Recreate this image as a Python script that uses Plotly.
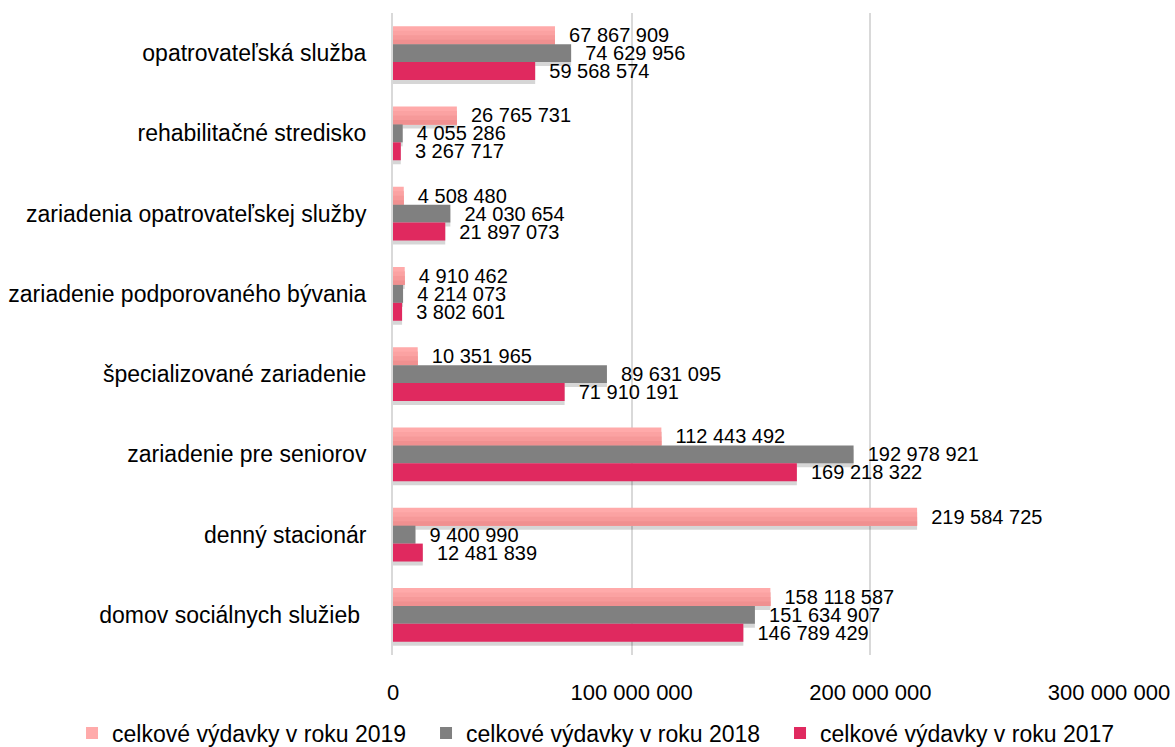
import plotly.graph_objects as go

# Service types, listed top to bottom
categories = [
    "opatrovateľská služba",
    "rehabilitačné stredisko",
    "zariadenia opatrovateľskej služby",
    "zariadenie podporovaného bývania",
    "špecializované zariadenie",
    "zariadenie pre seniorov",
    "denný stacionár",
    "domov sociálnych služieb ",
]

vydavky_2019 = [67867909, 26765731, 4508480, 4910462, 10351965, 112443492, 219584725, 158118587]
vydavky_2018 = [74629956, 4055286, 24030654, 4214073, 89631095, 192978921, 9400990, 151634907]
vydavky_2017 = [59568574, 3267717, 21897073, 3802601, 71910191, 169218322, 12481839, 146789429]

series_names = [
    "celkové výdavky v roku 2019",
    "celkové výdavky v roku 2018",
    "celkové výdavky v roku 2017",
]
series_values = [vydavky_2019, vydavky_2018, vydavky_2017]
series_colors = ["#FFAAAA", "#808080", "#E0295F"]

# lower shades of the 2019 bars (light top fading to a deeper pink)
shade_2019 = ["#FBA2A2", "#F69999", "#F09090"]

x_ticks = [0, 100000000, 200000000, 300000000]

FONT = "Liberation Sans, Arial, sans-serif"
NBSP = "\u00a0"

BARGAP = 0.33
BAR_W = (1 - BARGAP) / 3
SHADOW_SHIFT = 0.05
GROUP_START = -(1 - BARGAP) / 2


def main_bar(name, vals, color):
    return go.Bar(
        y=categories,
        x=vals,
        name=name,
        orientation="h",
        marker=dict(color=color, line=dict(width=0)),
        texttemplate=NBSP * 2 + "%{x:,d}",
        textposition="outside",
        constraintext="none",
        cliponaxis=False,
        textfont=dict(family=FONT, size=20, color="#000000"),
        hoverinfo="skip",
    )


fig = go.Figure()

# soft drop shadow drawn underneath each bar
for i, vals in enumerate(series_values):
    fig.add_trace(go.Bar(
        y=categories,
        x=vals,
        orientation="h",
        offset=GROUP_START + i * BAR_W + SHADOW_SHIFT,
        width=BAR_W,
        marker=dict(color="rgba(0,0,0,0.16)", line=dict(width=0)),
        showlegend=False,
        hoverinfo="skip",
    ))

# 2019 bars with a vertical gradient built from stacked shade bands
fig.add_trace(main_bar(series_names[0], vydavky_2019, series_colors[0]))
n_bands = len(shade_2019) + 1
for k, shade in enumerate(shade_2019, start=1):
    frac = (n_bands - k) / n_bands
    fig.add_trace(go.Bar(
        y=categories,
        x=vydavky_2019,
        orientation="h",
        offset=GROUP_START + BAR_W * (1 - frac),
        width=BAR_W * frac,
        marker=dict(color=shade, line=dict(width=0)),
        showlegend=False,
        hoverinfo="skip",
    ))

fig.add_trace(main_bar(series_names[1], vydavky_2018, series_colors[1]))
fig.add_trace(main_bar(series_names[2], vydavky_2017, series_colors[2]))

fig.update_layout(
    width=1175,
    height=747,
    barmode="group",
    bargap=BARGAP,
    bargroupgap=0,
    separators=", ",
    paper_bgcolor="white",
    plot_bgcolor="white",
    margin=dict(l=393, r=66, t=13, b=92, autoexpand=False),
    font=dict(family=FONT, size=22, color="#000000"),
    showlegend=True,
    legend=dict(
        orientation="h",
        x=-0.4483,
        xanchor="left",
        y=-0.1215,
        yanchor="middle",
        font=dict(family=FONT, size=23, color="#000000"),
        itemwidth=30,
        entrywidth=309,
        tracegroupgap=0,
        bgcolor="rgba(0,0,0,0)",
    ),
    xaxis=dict(
        range=[0, 300000000],
        tickvals=x_ticks,
        tickformat=",d",
        showgrid=True,
        gridcolor="#D9D9D9",
        gridwidth=2,
        zeroline=False,
        showline=False,
        ticks="",
        ticklabelstandoff=22,
        tickfont=dict(family=FONT, size=22, color="#000000"),
    ),
    yaxis=dict(
        autorange="reversed",
        showline=True,
        linecolor="#D9D9D9",
        linewidth=2,
        showgrid=False,
        ticks="",
        ticklabelstandoff=20,
        tickfont=dict(family=FONT, size=23, color="#000000"),
    ),
)

fig.write_html("out.html")
